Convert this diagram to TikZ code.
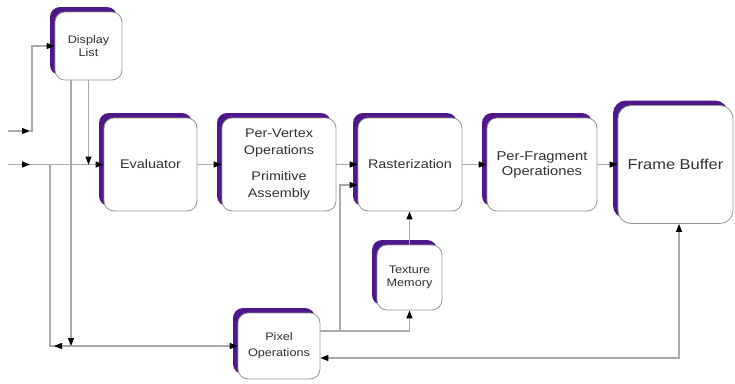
\documentclass[tikz,border=0pt]{standalone}
\usepackage{fontspec}
\setmainfont[FakeStretch=1.15]{Liberation Sans}
\usetikzlibrary{arrows.meta,shadows}
\definecolor{shad}{RGB}{78,24,140}
\definecolor{txt}{RGB}{50,50,50}
\definecolor{ln}{RGB}{170,170,170}
\definecolor{bd}{RGB}{150,150,150}
\tikzset{
  blk/.tip={Triangle[length=8pt,width=6pt,color=black]},
  box/.style={draw=bd, line width=0.8pt, fill=white, rounded corners=10pt,
    align=center, text=txt, inner sep=0pt,
    general shadow={shadow xshift=-5pt, shadow yshift=5pt, fill=shad, draw=none}},
  conn/.style={draw=ln, line width=1.2pt, -{blk}},
  conn2/.style={draw=ln, line width=1.2pt, {blk}-{blk}},
  plain/.style={draw=ln, line width=1.2pt},
}
\begin{document}
\begin{tikzpicture}[x=1pt,y=-1pt]
\path[fill=white,use as bounding box] (0,0) rectangle (735,383);

\node[box, minimum width=67pt, minimum height=68pt, font=\fontsize{11}{13}\selectfont] (disp) at (88.5,46) {Display\\List};
\node[box, minimum width=93pt, minimum height=93pt, font=\fontsize{12.5}{17}\selectfont] (eval) at (150.5,164.5) {Evaluator};
\node[box, minimum width=114pt, minimum height=93pt, font=\fontsize{12.5}{17}\selectfont] (pv) at (279,164.5) {Per-Vertex\\Operations\\[9pt]Primitive\\Assembly};
\node[box, minimum width=104pt, minimum height=93pt, font=\fontsize{12.5}{17}\selectfont] (rast) at (410,164.5) {Rasterization};
\node[box, minimum width=110pt, minimum height=93pt, font=\fontsize{12.8}{15}\selectfont] (pf) at (542,164.5) {Per-Fragment\\Operationes};
\node[box, minimum width=115pt, minimum height=118pt, rounded corners=13pt, font=\fontsize{14.3}{17}\selectfont] (fb) at (675.5,164.5) {Frame Buffer};
\node[box, minimum width=65pt, minimum height=65pt, font=\fontsize{11}{13}\selectfont] (tex) at (409.5,277.5) {Texture\\Memory};
\node[box, minimum width=82pt, minimum height=66pt, font=\fontsize{11}{16}\selectfont] (pix) at (279,346) {Pixel\\Operations};

% inputs
\coordinate (in1) at (8,164.5);
\coordinate (in1m) at (30,164.5);
\coordinate (in2) at (8,131);
\coordinate (in2m) at (30,131);
\coordinate (in2c) at (32,131);
\draw[conn] (in1) -- (in1m);
\draw[conn] (in1m) -- (in1m -| eval.west);
\draw[conn] (in2) -- (in2m);
\draw[conn] (in2m) -- (in2c) |- (disp.west);

% display list outputs
\draw[conn] (disp.south) -- (disp.south |- in1);
\coordinate (d71) at (71,80);
\coordinate (b71) at (71,346);
\coordinate (j50) at (50,164.5);
\coordinate (c50) at (50,346);
\coordinate (t50) at (54,346);
\draw[plain] (j50) -- (c50) -- (t50);
\draw[conn] (c50) -- (pix.west);
\draw[conn] (b71) -- (t50);
\draw[conn] (d71) -- (b71);

% main row
\draw[conn] (eval) -- (pv);
\draw[conn] (pv) -- (rast);
\draw[conn] (rast) -- (pf);
\draw[conn] (pf) -- (fb);

% pixel ops to texture and rasterization
\coordinate (r331) at (340,331);
\coordinate (r185) at (340,185);
\draw[conn] (pix.east |- r331) -| (tex.south);
\draw[conn] (r331) -- (r185) -- (r185 -| rast.west);
\draw[conn] (tex.north) -- (tex.north |- rast.south);

% frame buffer loop
\coordinate (fbb) at (679,358);
\draw[conn2] (fbb -| pix.east) -- (fbb) -- (fbb |- fb.south);
\end{tikzpicture}
\end{document}
